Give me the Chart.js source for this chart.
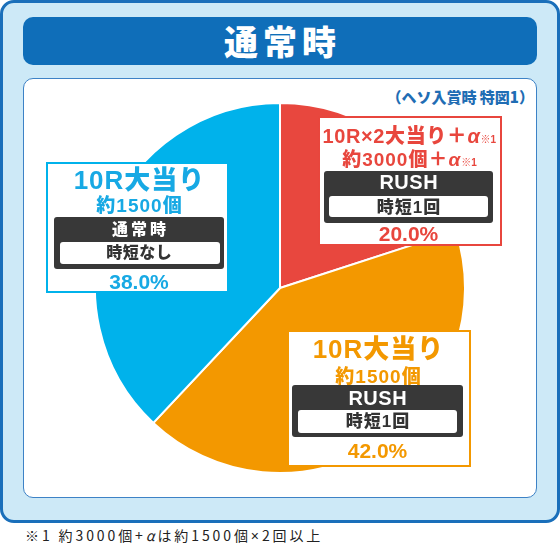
<!DOCTYPE html>
<html><head><meta charset="utf-8">
<script src="https://cdn.jsdelivr.net/npm/chart.js@4.4.1/dist/chart.umd.min.js"></script>
<style>
html,body{margin:0;padding:0;width:560px;height:543px;background:#fff;overflow:hidden;}
body{position:relative;font-family:"Liberation Sans","Noto Sans CJK JP",sans-serif;font-weight:900;}
.abs{position:absolute;box-sizing:border-box;}
#outer{left:0;top:0;width:560px;height:523px;border:3px solid #1a6fba;border-radius:14px;background:#cde9f7;}
#titlebar{left:23px;top:17px;width:514px;height:48px;border-radius:10px;background:#0f6eb9;color:#fff;font-size:34px;line-height:48px;text-align:center;letter-spacing:5px;padding-left:5px;font-family:"Noto Sans CJK JP",sans-serif;}
#inner{left:23px;top:78px;width:514px;height:420px;border:1.5px solid #3d82c6;border-radius:10px;background:#fff;}
#sub{left:300px;top:87px;width:234px;text-align:right;font-size:15px;line-height:20px;color:#1f6db4;font-family:"Noto Sans CJK JP",sans-serif;}
#chartwrap{left:94px;top:102px;width:372px;height:372px;}
.box{background:#fff;border:2.5px solid;}
.dark{background:#383838;border-radius:3px;}
.wbox{background:#fff;border-radius:3px;}
.t{white-space:nowrap;text-align:center;}
.a{font-style:italic;}
.s{font-size:10px;letter-spacing:0;}
#foot{left:25px;top:526px;font-size:14px;line-height:18px;color:#222;font-weight:normal;letter-spacing:2.9px;font-family:"Noto Sans CJK JP",sans-serif;white-space:nowrap;}
.n{font-family:"Liberation Sans",sans-serif;}
</style></head>
<body>
<div id="outer" class="abs"></div>
<div id="titlebar" class="abs">通常時</div>
<div id="inner" class="abs"></div>
<div id="sub" class="abs">（ヘソ入賞時 特図1）</div>
<div id="chartwrap" class="abs"><canvas id="c" width="372" height="372"></canvas></div>
<div id="labels"></div>
<div id="foot" class="abs">※1 約3000個+<span class="a">α</span>は約1500個<span class="n">×</span>2回以上</div>
<script>
// ---- data ----
const categories = ["10R×2大当り+α RUSH 時短1回", "10R大当り RUSH 時短1回", "10R大当り 通常時 時短なし"];
const shares = [20.0, 42.0, 38.0];
const sliceColors = ["#e8473e", "#f39800", "#00b2eb"];
const percentLabels = ["20.0%", "42.0%", "38.0%"];

new Chart(document.getElementById('c'), {
  type: 'pie',
  data: {
    labels: categories,
    datasets: [{
      data: shares,
      backgroundColor: sliceColors,
      borderColor: '#ffffff',
      borderWidth: 2
    }]
  },
  options: {
    responsive: false,
    animation: false,
    layout: { padding: 0 },
    plugins: { legend: { display: false }, tooltip: { enabled: false } }
  }
});

// ---- label boxes (HTML text) ----
const L = document.getElementById('labels');
function el(cls, css, html) {
  const d = document.createElement('div');
  d.className = 'abs ' + cls;
  Object.assign(d.style, css);
  if (html !== undefined) d.innerHTML = html;
  L.appendChild(d);
  return d;
}
function line(cx, cy, size, color, html, ls) {
  const w = 240, lh = size + 6;
  el('t', { left: (cx - w / 2) + 'px', top: (cy - lh / 2) + 'px', width: w + 'px', lineHeight: lh + 'px',
    fontSize: size + 'px', color: color, letterSpacing: (ls || 0) + 'px', paddingLeft: (ls || 0) + 'px' }, html);
}
function rect(cls, x1, y1, x2, y2, extra) {
  el(cls, Object.assign({ left: x1 + 'px', top: y1 + 'px', width: (x2 - x1) + 'px', height: (y2 - y1) + 'px' }, extra || {}));
}

// red box
const red = "#e8463d";
rect('box', 318, 116, 502, 246, { borderColor: red });
rect('dark', 324, 171, 493, 223);
rect('wbox', 329, 196, 488, 217);
line(409, 136, 20, red, '10R×2大当り＋<span class="a">α</span><span class="s">※1</span>', 0.6);
line(409, 159, 19, red, '約3000個＋<span class="a">α</span><span class="s">※1</span>', 1);
line(408.5, 182, 20, '#fff', 'RUSH', 0.5);
line(408.5, 207, 17, '#333', '時短1回', 1);
line(408.5, 233, 21, red, percentLabels[0], 0);

// orange box
const org = "#f39800";
rect('box', 287, 330, 471, 467, { borderColor: org });
rect('dark', 292, 385, 463, 437);
rect('wbox', 298, 410, 457, 433);
line(378, 349, 26, org, '10R大当り', 1);
line(378, 376, 19, org, '約1500個', 1);
line(377.5, 398, 20, '#fff', 'RUSH', 0.5);
line(377.5, 421, 17, '#333', '時短1回', 1);
line(377.5, 450, 21, org, percentLabels[1], 0);

// blue box
const blu = "#17a9e4";
rect('box', 46, 162, 229, 293, { borderColor: "#00b2eb" });
rect('dark', 54, 217, 224, 269);
rect('wbox', 60, 242, 220, 264);
line(139, 180, 26, blu, '10R大当り', 1);
line(139, 205, 19, blu, '約1500個', 1);
line(139, 230, 16, '#fff', '通常時', 3);
line(139, 253, 16, '#333', '時短なし', 0.5);
line(139, 281, 21, blu, percentLabels[2], 0);
</script>
</body></html>
